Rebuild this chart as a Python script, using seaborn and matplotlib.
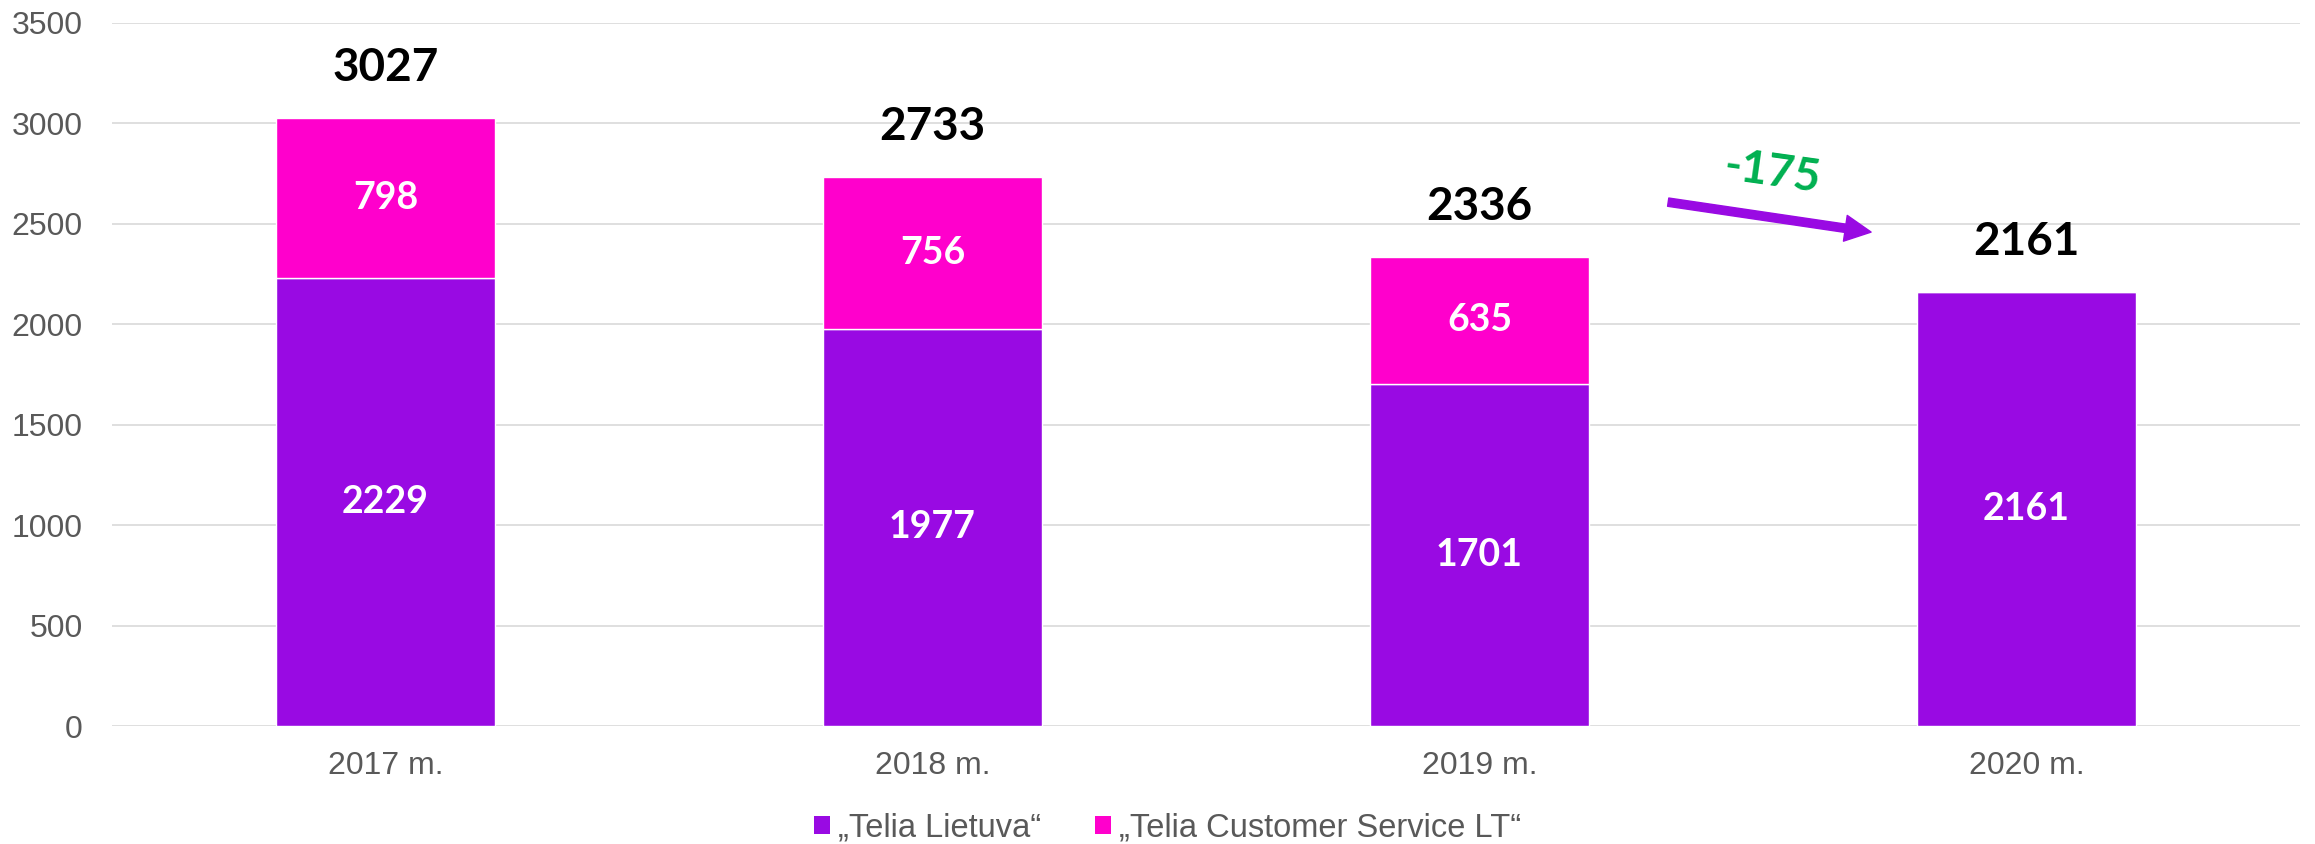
import numpy as np
import pandas as pd
import matplotlib
matplotlib.use("Agg")
import matplotlib.pyplot as plt
import seaborn as sns
from matplotlib.patches import Patch

# data
years = ["2017 m.", "2018 m.", "2019 m.", "2020 m."]
lietuva = [2229, 1977, 1701, 2161]
customer_service = [798, 756, 635, 0]
series_names = ["\u201eTelia Lietuva\u201c", "\u201eTelia Customer Service LT\u201c"]

PURPLE = "#990AE3"
PINK = "#FF00CC"
GREEN = "#00B050"
GREY = "#595959"

df = pd.DataFrame({"year": years, "lietuva": lietuva, "cs": customer_service})
df["total"] = df["lietuva"] + df["cs"]

sns.set_theme(style="white")
plt.rcParams["font.family"] = ["Liberation Sans", "DejaVu Sans"]

fig = plt.figure(figsize=(23.15, 8.44), dpi=100)
ax = fig.add_axes([0.0484, 0.1398, 0.9451, 0.8333])

sns.barplot(data=df, x="year", y="lietuva", color=PURPLE, width=0.4,
            saturation=1, ax=ax, zorder=3)
sns.barplot(data=df, x="year", y="cs", color=PINK, width=0.4,
            saturation=1, ax=ax, bottom=df["lietuva"], zorder=3)

ax.set_ylim(0, 3500)
ax.set_xlim(-0.5, 3.5)
ax.set_yticks(np.arange(0, 3501, 500))
ax.yaxis.grid(True, color="#D9D9D9", linewidth=1.2, zorder=0)
ax.set_axisbelow(True)
for s in ax.spines.values():
    s.set_visible(False)
ax.set_xlabel("")
ax.set_ylabel("")
ax.tick_params(axis="y", length=0, pad=21, labelsize=23, labelcolor=GREY)
ax.tick_params(axis="x", length=0, pad=18, labelsize=23, labelcolor=GREY)

# labels inside bars
for i, row in df.iterrows():
    ax.text(i, row["lietuva"] / 2, f"{row['lietuva']}", ha="center", va="center",
            color="white", fontsize=27, fontweight="bold", family=["Lato", "DejaVu Sans"])
    if row["cs"] > 0:
        ax.text(i, row["lietuva"] + row["cs"] / 2, f"{row['cs']}", ha="center", va="center",
                color="white", fontsize=27, fontweight="bold", family=["Lato", "DejaVu Sans"])
    ax.annotate(f"{row['total']}", xy=(i, row["total"]), xytext=(0, 36),
                textcoords="offset points", ha="center", va="center",
                fontsize=33, fontweight="bold", color="black",
                family=["Lato", "DejaVu Sans"])

# change arrow
change = df["total"].iloc[3] - df["total"].iloc[2]
ax.annotate("", xy=(2.716, 2458), xytext=(2.345, 2607),
            arrowprops=dict(arrowstyle="simple,head_width=0.75,head_length=0.75,tail_width=0.24",
                            color=PURPLE, mutation_scale=25, shrinkA=0, shrinkB=0))
ax.text(2.535, 2751, f"{change}", ha="center", va="center", rotation=-8,
        fontsize=33, fontweight="bold", color=GREEN, family=["Lato", "DejaVu Sans"])

handles = [Patch(facecolor=PURPLE, edgecolor="none"), Patch(facecolor=PINK, edgecolor="none")]
fig.legend(handles, series_names, loc="center", bbox_to_anchor=(0.5043, 0.019),
           ncol=2, frameon=False, fontsize=23.5, labelcolor=GREY,
           handlelength=0.49, handleheight=0.49, handletextpad=0.25, columnspacing=1.65)

fig.savefig("out.png", dpi=100)
